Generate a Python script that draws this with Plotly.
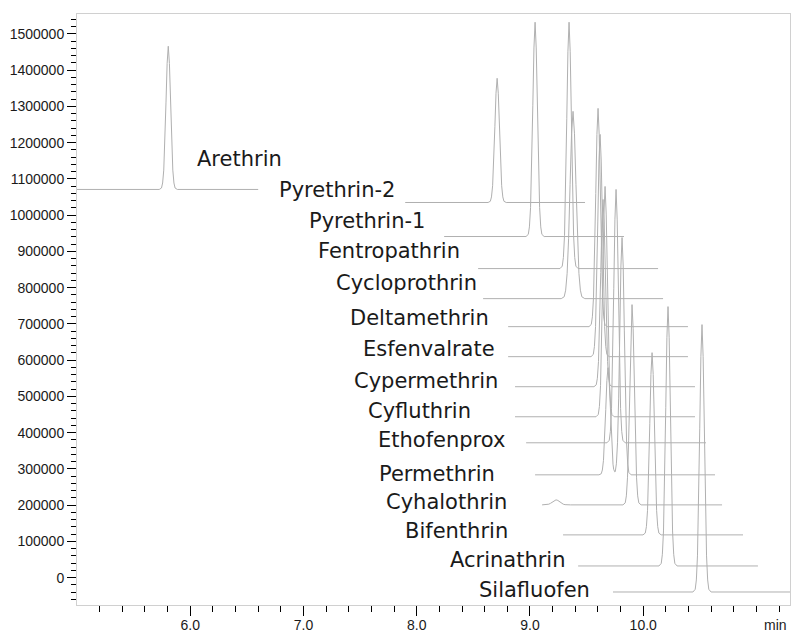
import numpy as np
import plotly.graph_objects as go

# ---------------- data ----------------
names = ["Arethrin", "Pyrethrin-2", "Pyrethrin-1", "Fentropathrin", "Cycloprothrin",
         "Deltamethrin", "Esfenvalrate", "Cypermethrin", "Cyfluthrin", "Ethofenprox",
         "Permethrin", "Cyhalothrin", "Bifenthrin", "Acrinathrin", "Silafluofen"]

trace_start = [5.000, 7.898, 8.242, 8.542, 8.586, 8.807, 8.807, 8.868, 8.868, 8.966,
               9.045, 9.107, 9.292, 9.425, 9.733]
trace_end = [6.600, 9.486, 9.830, 10.131, 10.175, 10.395, 10.395, 10.457, 10.457, 10.554,
             10.634, 10.696, 10.881, 11.013, 11.322]
baseline = [1071000, 1035000, 941100, 852700, 769800, 692500, 609700, 526800, 443900,
            372100, 283700, 200800, 118000, 32300, -39500]

peak_times = [[5.806], [8.710], [9.045], [9.345], [9.380], [9.601], [9.619], [9.645],
              [9.663], [9.760], [9.689, 9.813], [9.230, 9.901], [10.078], [10.219], [10.519]]
peak_tops = [[1466000], [1377600], [1532300], [1532300], [1286500], [1294700], [1222900],
             [1043400], [1079300], [1071000], [579300, 938400], [214700, 753300],
             [620700], [747800], [698100]]
peak_widths = [[1.0], [1.0], [1.0], [1.0], [1.3], [1.0], [1.0], [1.0], [1.0], [1.0],
               [1.0, 1.0], [1.6, 1.0], [1.0], [1.0], [1.0]]

# generic chromatographic peak profile (offset in min, fraction of peak height)
PEAK_DT = [-0.08, -0.06, -0.05, -0.04, -0.03, -0.02, -0.01, 0.0,
           0.01, 0.02, 0.03, 0.04, 0.05, 0.06, 0.08]
PEAK_FRAC = [0.0, 0.01, 0.045, 0.135, 0.32, 0.61, 0.88, 1.0,
             0.88, 0.61, 0.32, 0.135, 0.045, 0.01, 0.0]

# label anchor positions (left edge, vertical centre) in axis units
label_t = [6.053, 6.777, 7.041, 7.121, 7.280, 7.403, 7.518, 7.439, 7.562, 7.650,
           7.659, 7.721, 7.889, 8.286, 8.542]
label_v = [1153900, 1068200, 982600, 902500, 814100, 717400, 631800, 543400, 460500,
           380400, 286500, 209100, 128900, 48800, -34000]

x_tick_vals = [6, 7, 8, 9, 10, 11]
x_tick_text = ["6.0", "7.0", "8.0", "9.0", "10.0", ""]

# ---------------- figure ----------------
fig = go.Figure()
for i, name in enumerate(names):
    xs = [trace_start[i], trace_end[i]]
    for pt, w in zip(peak_times[i], peak_widths[i]):
        xs += [pt + d * w for d in PEAK_DT]
    xs = sorted(set(round(x, 5) for x in xs if trace_start[i] <= x <= trace_end[i]))
    ys = []
    for x in xs:
        v = baseline[i]
        for pt, top, w in zip(peak_times[i], peak_tops[i], peak_widths[i]):
            v += (top - baseline[i]) * float(np.interp((x - pt) / w, PEAK_DT, PEAK_FRAC))
        ys.append(v)
    fig.add_trace(go.Scatter(x=xs, y=ys, mode="lines", name=name,
                             line=dict(color="#b0b0b0", width=1),
                             showlegend=False, hoverinfo="skip"))

for name, lt, lv in zip(names, label_t, label_v):
    fig.add_annotation(x=lt, y=lv, xref="x", yref="y", text=name, showarrow=False,
                       xanchor="left", yanchor="middle", borderpad=0,
                       font=dict(family="DejaVu Sans", size=21, color="#1a1a1a"))

fig.add_annotation(x=1, y=0, xref="paper", yref="paper", text="min", showarrow=False,
                   xanchor="right", yanchor="top", xshift=-2, yshift=-11, borderpad=0,
                   font=dict(family="Liberation Sans", size=14, color="#222"))

minor_x = [round(5.0 + 0.2 * k, 2) for k in range(1, 32)]

fig.update_layout(
    width=792, height=632,
    margin=dict(l=77, r=2, t=14, b=27),
    paper_bgcolor="white", plot_bgcolor="white",
    xaxis=dict(range=[5.0, 11.296], tickmode="array", tickvals=x_tick_vals,
               ticktext=x_tick_text, ticks="outside", ticklen=10, tickwidth=1,
               tickcolor="#000", showline=True, linecolor="#d0d0d0", linewidth=1,
               mirror=True, showgrid=False, zeroline=False, automargin=False,
               ticklabelstandoff=-3,
               tickfont=dict(family="Liberation Sans", size=14, color="#1a1a1a"),
               minor=dict(tickmode="array", tickvals=minor_x, ticks="outside",
                          ticklen=6, tickcolor="#000", tickwidth=1, showgrid=False)),
    yaxis=dict(range=[-75400, 1555000], tickmode="linear", tick0=0, dtick=100000,
               tickformat="d", ticks="outside", ticklen=9, tickwidth=1,
               tickcolor="#000", showline=True, linecolor="#d0d0d0", linewidth=1,
               mirror=True, showgrid=False, zeroline=False, automargin=False,
               tickfont=dict(family="Liberation Sans", size=14, color="#1a1a1a"),
               minor=dict(dtick=20000, tick0=0, ticks="outside", ticklen=5,
                          tickcolor="#000", tickwidth=1, showgrid=False)),
)

fig.write_html("out.html", config={"displayModeBar": False},
               post_script="document.body.style.margin='0px';"
                           "document.body.style.overflow='hidden';")
